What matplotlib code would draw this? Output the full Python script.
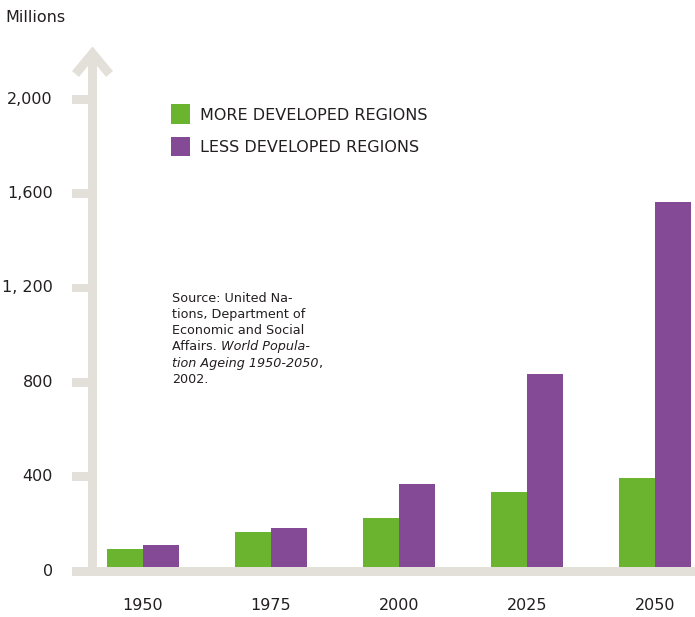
import matplotlib
matplotlib.use("Agg")
import matplotlib.pyplot as plt
from matplotlib.patches import Rectangle

years = ["1950", "1975", "2000", "2025", "2050"]
more_developed = [93, 165, 225, 335, 394]
less_developed = [110, 182, 369, 835, 1564]
yticks = [0, 400, 800, 1200, 1600, 2000]
ytick_labels = ["0", "400", "800", "1, 200", "1,600", "2,000"]

GREEN = "#6AB430"
PURPLE = "#844A96"
GRAY = "#E3E0D9"
TXT = "#231F20"
plt.rcParams["font.family"] = ["DejaVu Sans"]

W, H = 695, 617
fig = plt.figure(figsize=(W / 100, H / 100), dpi=100)
ax = fig.add_axes([0, 0, 1, 1])
ax.axis("off")

# pixel -> data helpers (group spacing 128 px, 0.2359 px per million)
X0, XS = 143, 128.0
Y0, YS = 571, 0.2359
def dx(px): return (px - X0) / XS
def dy(py): return (Y0 - py) / YS

ax.set_xlim(dx(0), dx(W))
ax.set_ylim(dy(H), dy(0))

bw = 36 / XS
xs = list(range(len(years)))
ax.bar([x - bw / 2 for x in xs], more_developed, width=bw, color=GREEN, zorder=2)
ax.bar([x + bw / 2 for x in xs], less_developed, width=bw, color=PURPLE, zorder=2)

# axis decorations
ax.add_patch(Rectangle((dx(88), dy(575)), dx(97) - dx(88), dy(55) - dy(575), color=GRAY, lw=0, zorder=3))
ax.add_patch(Rectangle((dx(72), dy(575.5)), dx(W + 5) - dx(72), dy(566.5) - dy(575.5), color=GRAY, lw=0, zorder=3))
th = 4.3 / YS
for v, lab in zip(yticks, ytick_labels):
    ax.add_patch(Rectangle((dx(72), v - th), dx(89) - dx(72), 2 * th, color=GRAY, lw=0, zorder=3))
    ax.text(dx(53), v, lab, ha="right", va="center", fontsize=11.5, color=TXT)
ax.plot([dx(75.5), dx(92.5), dx(109.5)], [dy(74), dy(53.5), dy(74)], color=GRAY, lw=6.5,
        solid_joinstyle="miter", solid_capstyle="butt", zorder=3)

for x, y in zip(xs, years):
    ax.text(x, dy(606), y, ha="center", va="center", fontsize=11.5, color=TXT)

ax.text(dx(5), dy(17), "Millions", ha="left", va="center", fontsize=11.5, color=TXT)

# legend
for py, col, lab in [(114, GREEN, "MORE DEVELOPED REGIONS"), (146.5, PURPLE, "LESS DEVELOPED REGIONS")]:
    ax.add_patch(Rectangle((dx(171), dy(py + 9.5)), dx(190) - dx(171), dy(py - 9.5) - dy(py + 9.5), color=col, lw=0))
    ax.text(dx(200), dy(py + 1.5), lab, ha="left", va="center", fontsize=11.5, color=TXT)

# source note, mixed roman / italic
src = [
    [("Source: United Na-", "normal")],
    [("tions, Department of", "normal")],
    [("Economic and Social", "normal")],
    [("Affairs. ", "normal"), ("World Popula-", "italic")],
    [("tion Ageing 1950-2050", "italic"), (",", "normal")],
    [("2002.", "normal")],
]
for i, parts in enumerate(src):
    prev = None
    for s, style in parts:
        if prev is None:
            prev = ax.text(dx(172), dy(298 + i * 16.3), s, ha="left", va="center",
                           fontsize=9.2, style=style, color=TXT)
        else:
            prev = ax.annotate(s, xy=(1, 0), xycoords=prev, ha="left", va="bottom",
                               fontsize=9.2, style=style, color=TXT)

fig.savefig("out.png", dpi=100)
